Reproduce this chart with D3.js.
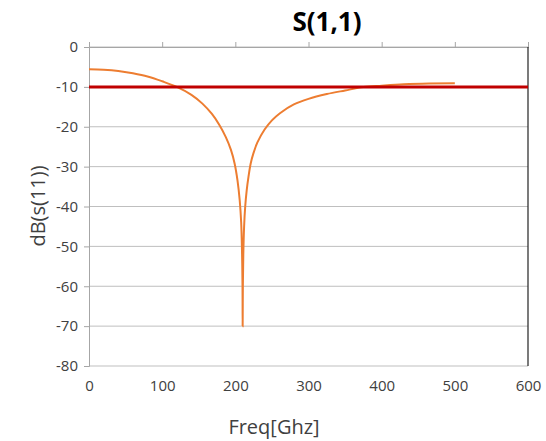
<!DOCTYPE html>
<html>
<head>
<meta charset="utf-8">
<script src="https://cdn.jsdelivr.net/npm/d3@7"></script>
<style>
  body { margin: 0; background: #fff; }
  svg text { font-family: "Open Sans", "Liberation Sans", sans-serif; }
</style>
</head>
<body>
<div id="chart"></div>
<script>
// Curve (frequency in GHz, dB)
const freq = [0, 20, 40, 60, 80, 100, 120, 140, 155, 168, 178, 187, 194, 199, 203, 206, 208, 209.2, 209.8, 210,
              210.3, 210.9, 212, 213.5, 215.5, 218, 221, 225, 230, 240, 250, 261, 280, 300, 325, 350, 375, 400, 430, 465, 500];
const s11 = [-5.6, -5.7, -6.0, -6.6, -7.4, -8.6, -10.0, -12.0, -14.2, -16.8, -19.5, -22.6, -25.8, -29.2, -33.5, -38.5, -44, -52, -60, -70,
             -60, -52, -45, -40, -36, -32.5, -29.2, -26.5, -24, -20.7, -18.4, -16.6, -14.4, -13.0, -11.8, -10.9, -10.05, -9.7, -9.35, -9.15, -9.1];
const limit = -10;
const xTicks = [0, 100, 200, 300, 400, 500, 600];
const yTicks = [0, -10, -20, -30, -40, -50, -60, -70, -80];

const W = 546, H = 441;
const margin = { left: 89, right: 18, top: 47, bottom: 75 };
const width = W - margin.left - margin.right;
const height = H - margin.top - margin.bottom;

const svg = d3.select("#chart").append("svg")
    .attr("width", W)
    .attr("height", H);

const g = svg.append("g")
    .attr("transform", "translate(" + margin.left + "," + margin.top + ")");

const x = d3.scaleLinear().domain([0, 600]).range([0, width]);
const y = d3.scaleLinear().domain([-80, 0]).range([height, 0]);

// horizontal gridlines
g.selectAll(".grid")
    .data(yTicks)
    .enter().append("line")
    .attr("x1", 0).attr("x2", width)
    .attr("y1", d => y(d)).attr("y2", d => y(d))
    .attr("stroke", "#bfbfbf")
    .attr("stroke-width", 1);

// y axis on the left
const yAxis = g.append("g")
    .call(d3.axisLeft(y).tickValues(yTicks).tickSize(5).tickPadding(6).tickFormat(d => String(d)));
yAxis.select(".domain").attr("stroke", "#a6a6a6");
yAxis.selectAll(".tick line").attr("stroke", "#a6a6a6");
yAxis.selectAll("text").attr("fill", "#404040").style("font-size", "15px");

// x axis sits at 0 dB with ticks pointing up, labels at the bottom
const xAxisTop = g.append("g")
    .call(d3.axisTop(x).tickValues(xTicks).tickSize(5).tickFormat(""));
xAxisTop.select(".domain").attr("stroke", "#a6a6a6");
xAxisTop.selectAll(".tick line").attr("stroke", "#a6a6a6");

const xAxis = g.append("g")
    .attr("transform", "translate(0," + height + ")")
    .call(d3.axisBottom(x).tickValues(xTicks).tickSize(0).tickPadding(14));
xAxis.select(".domain").remove();
xAxis.selectAll("text").attr("fill", "#404040").style("font-size", "15px");

// right border
g.append("line")
    .attr("x1", width).attr("x2", width)
    .attr("y1", 0).attr("y2", height)
    .attr("stroke", "#222")
    .attr("stroke-width", 1.2);

// S11 curve
const line = d3.line()
    .x((d, i) => x(freq[i]))
    .y(d => y(d))
    .curve(d3.curveCatmullRom.alpha(0.5));

g.append("path")
    .datum(s11)
    .attr("d", line)
    .attr("fill", "none")
    .attr("stroke", "#ed7d31")
    .attr("stroke-width", 2);

// -10 dB limit
g.append("line")
    .attr("x1", x(0)).attr("x2", x(600))
    .attr("y1", y(limit)).attr("y2", y(limit))
    .attr("stroke", "#c00000")
    .attr("stroke-width", 3);

// titles
svg.append("text")
    .attr("x", 327).attr("y", 31)
    .attr("text-anchor", "middle")
    .style("font-size", "26px")
    .style("font-weight", "bold")
    .attr("fill", "#000")
    .text("S(1,1)");

svg.append("text")
    .attr("x", 274).attr("y", 434)
    .attr("text-anchor", "middle")
    .style("font-size", "20px")
    .attr("fill", "#404040")
    .text("Freq[Ghz]");

svg.append("text")
    .attr("transform", "translate(45,206) rotate(-90)")
    .attr("text-anchor", "middle")
    .style("font-size", "20px")
    .attr("fill", "#404040")
    .text("dB(s(11))");
</script>
</body>
</html>
